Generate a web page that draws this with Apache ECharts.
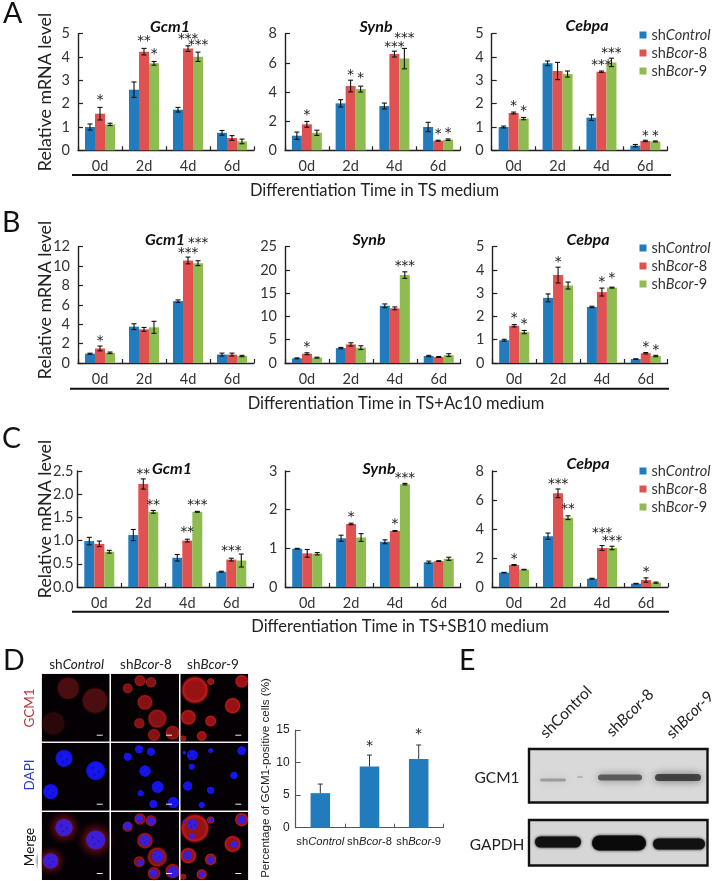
<!DOCTYPE html>
<html><head><meta charset="utf-8">
<style>html,body{margin:0;padding:0;background:#fff}#c{width:713px;height:881px}</style>
<script src="https://cdn.jsdelivr.net/npm/echarts@6/dist/echarts.min.js"></script>
</head><body><div id="c"></div>
<script>
const categories = ['0d','2d','4d','6d'];
const groups = ['shControl','shBcor-8','shBcor-9'];

// mean / sem per group (control, Bcor-8, Bcor-9); stars: [category, group, label, value]
const aGcm1Mean = [[1.0,2.6,1.74,0.75],[1.57,4.23,4.36,0.53],[1.11,3.73,4.01,0.38]];
const aGcm1Err  = [[0.13,0.33,0.1,0.1],[0.27,0.14,0.12,0.1],[0.05,0.08,0.2,0.1]];
const aGcm1Stars = [[0,1,'*',2.26],[1,1,'**',4.76],[1,2,'*',4.2],[2,1,'***',4.84],[2,2,'***',4.6]];
const aSynbMean = [[1.0,3.22,3.04,1.6],[1.78,4.41,6.6,0.66],[1.2,4.2,6.29,0.73]];
const aSynbErr  = [[0.25,0.25,0.2,0.32],[0.2,0.4,0.2,0.03],[0.18,0.2,0.7,0.05]];
const aSynbStars = [[0,1,'*',2.54],[1,1,'*',5.32],[1,2,'*',5.1],[2,1,'***',7.22],[2,2,'***',7.86],[3,1,'*',1.28],[3,2,'*',1.33]];
const aCebpaMean = [[1.0,3.73,1.4,0.2],[1.6,3.4,3.37,0.4],[1.36,3.27,3.77,0.38]];
const aCebpaErr  = [[0.04,0.1,0.12,0.05],[0.04,0.37,0.03,0.03],[0.05,0.13,0.18,0.02]];
const aCebpaStars = [[0,1,'*',1.99],[0,2,'*',1.77],[2,1,'***',3.73],[2,2,'***',4.26],[3,1,'*',0.7],[3,2,'*',0.7]];

const bGcm1Mean = [[0.96,3.75,6.38,0.87],[1.5,3.47,10.58,0.87],[1.05,3.68,10.3,0.72]];
const bGcm1Err  = [[0.05,0.3,0.13,0.15],[0.25,0.2,0.35,0.15],[0.08,0.62,0.25,0.07]];
const bGcm1Stars = [[0,1,'*',2.48],[2,1,'***',11.6],[2,2,'***',12.6]];
const bSynbMean = [[1.0,3.2,12.3,1.5],[2.0,4.0,11.75,1.3],[1.15,3.3,18.9,1.7]];
const bSynbErr  = [[0.1,0.15,0.4,0.15],[0.2,0.35,0.3,0.1],[0.1,0.4,0.7,0.3]];
const bSynbStars = [[0,1,'*',3.9],[2,2,'***',21.35]];
const bCebpaMean = [[0.98,2.8,2.41,0.17],[1.6,3.78,3.05,0.42],[1.33,3.33,3.24,0.3]];
const bCebpaErr  = [[0.04,0.17,0.03,0.01],[0.05,0.34,0.17,0.03],[0.07,0.15,0.02,0.03]];
const bCebpaStars = [[0,1,'*',2.02],[0,2,'*',1.78],[1,1,'*',4.43],[2,1,'*',3.55],[2,2,'*',3.76],[3,1,'*',0.77],[3,2,'*',0.66]];

const cGcm1Mean = [[0.99,1.12,0.63,0.33],[0.93,2.22,1.0,0.59],[0.76,1.62,1.62,0.57]];
const cGcm1Err  = [[0.08,0.12,0.07,0.01],[0.06,0.11,0.03,0.03],[0.03,0.03,0.01,0.14]];
const cGcm1Stars = [[1,1,'**',2.47],[1,2,'**',1.8],[2,1,'**',1.23],[2,2,'***',1.8],[3,1,'***',0.81]];
const cSynbMean = [[0.99,1.26,1.17,0.64],[0.87,1.63,1.45,0.67],[0.86,1.28,2.66,0.73]];
const cSynbErr  = [[0.01,0.08,0.05,0.03],[0.1,0.02,0.01,0.01],[0.03,0.1,0.02,0.04]];
const cSynbStars = [[1,1,'*',1.86],[2,1,'*',1.69],[2,2,'***',2.87]];
const cCebpaMean = [[0.99,3.5,0.57,0.23],[1.52,6.46,2.69,0.48],[1.2,4.78,2.69,0.3]];
const cCebpaErr  = [[0.02,0.22,0.03,0.02],[0.03,0.3,0.17,0.15],[0.02,0.13,0.12,0.04]];
const cCebpaStars = [[0,1,'*',2.09],[1,1,'***',7.22],[1,2,'**',5.54],[2,1,'***',3.86],[2,2,'***',3.31],[3,1,'*',1.2]];

const dCategories = groups;
const dPositive = [5.3,9.4,10.55];
const dPositiveErr = [1.4,1.75,2.15];
const dPositiveStars = [[1,'*',12.9],[2,'*',14.7]];

const COL = ['#227bbd','#e05252','#8fbc50'];
const LATO = 'Lato, Carlito, sans-serif';
const AX = '#222';
const STAR_FONT = '13.5px "DejaVu Sans"';

const panels = [
 {l:78, r:254, t:33.7, b:150.3, max:5, iv:1, m:aGcm1Mean, e:aGcm1Err, s:aGcm1Stars},
 {l:285,r:460, t:33.7, b:150.3, max:8, iv:2, m:aSynbMean, e:aSynbErr, s:aSynbStars},
 {l:491.7,r:667.3,t:33.7,b:150.3,max:5,iv:1, m:aCebpaMean,e:aCebpaErr,s:aCebpaStars},
 {l:78, r:254, t:246.7,b:363, max:12,iv:2, m:bGcm1Mean, e:bGcm1Err, s:bGcm1Stars},
 {l:285,r:460.7,t:246.7,b:363,max:25,iv:5, m:bSynbMean, e:bSynbErr, s:bSynbStars},
 {l:492.3,r:667.7,t:246.7,b:363,max:5,iv:1, m:bCebpaMean,e:bCebpaErr,s:bCebpaStars},
 {l:77.3,r:253.3,t:471,b:587, max:2.5,iv:0.5,fix:1, lm:4, m:cGcm1Mean, e:cGcm1Err, s:cGcm1Stars},
 {l:285.3,r:460.7,t:471,b:587,max:3, iv:1, m:cSynbMean, e:cSynbErr, s:cSynbStars},
 {l:492,r:668,t:471,b:587, max:8, iv:2, m:cCebpaMean,e:cCebpaErr,s:cCebpaStars}
];

const grid=[],xAxis=[],yAxis=[],series=[];
const axisLine={show:true,lineStyle:{color:AX,width:1.4}};
const BW = 10;

panels.forEach((p,i)=>{
  grid.push({left:p.l,top:p.t,width:p.r-p.l,height:p.b-p.t,containLabel:false});
  xAxis.push({gridIndex:i,type:'category',data:categories,axisLine,
    axisTick:{show:true,inside:true,length:4,alignWithLabel:false,lineStyle:{color:AX,width:1.2}},
    axisLabel:{fontFamily:LATO,fontSize:14.5,color:'#333',margin:9,interval:0},splitLine:{show:false}});
  yAxis.push({gridIndex:i,type:'value',min:0,max:p.max,interval:p.iv,axisLine,
    axisTick:{show:true,inside:true,length:5,lineStyle:{color:AX,width:1.2}},
    axisLabel:{fontFamily:LATO,fontSize:14.5,color:'#333',margin:p.lm||8,
      formatter:p.fix?(v=>v.toFixed(p.fix)):undefined},splitLine:{show:false}});
  groups.forEach((g,k)=>{
    series.push({type:'bar',name:g,xAxisIndex:i,yAxisIndex:i,data:p.m[k],barWidth:BW,barGap:0,
      itemStyle:{color:COL[k]},silent:true,z:2});
  });
  const errData=[];
  p.m.forEach((arr,k)=>arr.forEach((v,c)=>errData.push([c,v,p.e[k][c],k])));
  series.push({type:'custom',xAxisIndex:i,yAxisIndex:i,silent:true,z:3,clip:false,data:errData,
    encode:{x:0,y:1},
    renderItem:(ctx,api)=>{
      const c=api.value(0),v=api.value(1),er=api.value(2),k=api.value(3);
      const dx=(k-1)*BW;
      const a=api.coord([c,v+er]),b=api.coord([c,Math.max(0,v-er)]);
      const x=a[0]+dx, st={stroke:'#111',lineWidth:1.1};
      return {type:'group',children:[
        {type:'line',shape:{x1:x,y1:a[1],x2:x,y2:b[1]},style:st},
        {type:'line',shape:{x1:x-2.5,y1:a[1],x2:x+2.5,y2:a[1]},style:st},
        {type:'line',shape:{x1:x-2.5,y1:b[1],x2:x+2.5,y2:b[1]},style:st}]};
    }});
  series.push({type:'custom',xAxisIndex:i,yAxisIndex:i,silent:true,z:4,clip:false,
    data:p.s.map(s=>[s[0],s[3],s[1],s[2]]),encode:{x:0,y:1},
    renderItem:(ctx,api)=>{
      const q=api.coord([api.value(0),api.value(1)]);
      return {type:'text',x:q[0]+(api.value(2)-1)*BW,y:q[1]+2.5,
        style:{text:p.s[ctx.dataIndex][2],font:STAR_FONT,fill:'#222',align:'center',verticalAlign:'middle'}};
    }});
});

// Panel D bar chart
const di=panels.length;
grid.push({left:295.7,top:730,width:147.6,height:97.7});
xAxis.push({gridIndex:di,type:'category',data:dCategories,axisLine:{show:true,lineStyle:{color:'#555',width:1.2}},
  axisTick:{show:true,inside:true,length:4,lineStyle:{color:'#555'}},
  axisLabel:{interval:0,margin:9,fontFamily:'"Liberation Sans"',fontSize:11.2,color:'#222',
    formatter:v=>'sh{i|'+v.slice(2).replace(/-\d/,'')+'}'+(v.match(/-\d/)||[''])[0],
    rich:{i:{fontStyle:'italic',fontFamily:'"Liberation Sans"',fontSize:11.2,color:'#222'}}}});
yAxis.push({gridIndex:di,type:'value',min:0,max:15,interval:5,axisLine:{show:true,lineStyle:{color:'#555',width:1.2}},
  axisTick:{show:true,inside:true,length:5,lineStyle:{color:'#555'}},
  axisLabel:{fontFamily:'"Liberation Sans"',fontSize:12,color:'#222',margin:6},splitLine:{show:false}});
series.push({type:'bar',name:'GCM1-positive',xAxisIndex:di,yAxisIndex:di,data:dPositive,barWidth:19.5,itemStyle:{color:COL[0]},silent:true});
series.push({type:'custom',xAxisIndex:di,yAxisIndex:di,silent:true,z:3,clip:false,
  data:dPositive.map((v,c)=>[c,v,dPositiveErr[c]]),encode:{x:0,y:1},
  renderItem:(ctx,api)=>{
    const a=api.coord([api.value(0),api.value(1)+api.value(2)]),b=api.coord([api.value(0),api.value(1)]);
    const st={stroke:'#333',lineWidth:1};
    return {type:'group',children:[
      {type:'line',shape:{x1:a[0],y1:a[1],x2:b[0],y2:b[1]},style:st},
      {type:'line',shape:{x1:a[0]-2.5,y1:a[1],x2:a[0]+2.5,y2:a[1]},style:st}]};
  }});
series.push({type:'custom',xAxisIndex:di,yAxisIndex:di,silent:true,z:4,clip:false,
  data:dPositiveStars.map(s=>[s[0],s[2]]),encode:{x:0,y:1},
  renderItem:(ctx,api)=>{
    const q=api.coord([api.value(0),api.value(1)]);
    return {type:'text',x:q[0],y:q[1]+2.5,style:{text:'*',font:STAR_FONT,fill:'#222',align:'center',verticalAlign:'middle'}};
  }});

// Legends
const legend=[26,239,462].map(top=>({data:groups,orient:'vertical',left:639.5,top,padding:0,itemWidth:7,itemHeight:7,itemGap:0,
  icon:'rect',selectedMode:false,
  formatter:n=>n==='shControl'?'sh{i|Control}':'sh{i|Bcor}-'+n.slice(-1),
  textStyle:{fontFamily:LATO,fontSize:14.5,color:'#333',lineHeight:18,height:18,
    rich:{i:{fontStyle:'italic',fontFamily:LATO,fontSize:14.5,color:'#333',lineHeight:18}}}}));

// Graphic: labels, rules, photo panels
const G=[];
function T(text,x,y,size,o={}){
  const fam=o.fam||LATO,col=o.col||'#222';
  G.push({type:'text',x,y,rotation:(o.rot||0)*Math.PI/180,silent:true,z:10,style:{text,
    fontFamily:fam,fontSize:size,fontWeight:o.w||'normal',fontStyle:o.s||'normal',fill:col,
    align:o.a||'center',verticalAlign:'middle',
    rich:{n:{fontFamily:fam,fontSize:size,fontWeight:o.w||'normal',fill:col},
          i:{fontFamily:fam,fontSize:size,fontStyle:'italic',fill:col}}}});
}
[['A',3,14],['B',2,223],['C',2,439],['D',3,661],['E',459,661]].forEach(a=>T(a[0],a[1],a[2],28.5,{a:'left',col:'#111'}));
[92,300,519].forEach(y=>T('Relative mRNA level',45,y,17.8,{rot:90}));
const titles=[['Gcm1',170,27],['Synb',376,27],['Cebpa',587,26],['Gcm1',165,240],['Synb',369,240],['Cebpa',588,240],['Gcm1',172,469],['Synb',379,469],['Cebpa',588,464]];
titles.forEach(t=>T(t[0],t[1],t[2],16,{w:'bold',s:'italic',col:'#111'}));
[[72,671,175],[70,669,388.7],[72,669,611.7]].forEach(r=>G.push({type:'line',silent:true,shape:{x1:r[0],y1:r[2],x2:r[1],y2:r[2]},style:{stroke:'#111',lineWidth:2}}));
T('Differentiation Time in TS medium',374.5,190.7,16.5);
T('Differentiation Time in TS+Ac10 medium',396,404,16.5);
T('Differentiation Time in TS+SB10 medium',400,627,16.5);

// Microscopy panels (pictorial backdrop)
const PX=[41.7,111,180.3],PY=[673.7,742.7,812],PS=68;
PX.forEach(x=>PY.forEach(y=>G.push({type:'rect',silent:true,shape:{x,y,width:PS,height:PS},style:{fill:'#050003'}})));
function ell(zx,zy,zrx,zry,rot,stops){
  const cx=zx/3,cy=640+zy/3;
  G.push({type:'ellipse',silent:true,shape:{cx,cy,rx:zrx/3,ry:zry/3},rotation:(rot||0)*Math.PI/180,originX:cx,originY:cy,
    style:{fill:{type:'radial',x:.5,y:.5,r:.5,colorStops:stops.map(s=>({offset:s[0],color:s[1]}))}}});
}
const gcmCells=[
 [[205,145,38,48,-20],[285,182,44,44,0],[160,250,40,50,0]],
 [[383,145,17,29,-12],[420,122,19,23,0],[453,127,18,21,0],[435,187,26,29,10],[472,236,42,32,30],[418,250,27,18,0],[462,285,21,23,0],[518,278,24,26,0]],
 [[585,150,46,46,20],[632,125,17,12,0],[725,124,22,24,0],[698,197,29,27,0],[565,232,26,29,-20],[632,243,21,19,0],[605,288,21,17,0],[550,295,10,11,0]]
];
const dapiCells=[
 [[192,355,29,27,0],[287,392,30,30,0],[152,455,24,30,0]],
 [[383,350,13,20,-12],[417,328,13,14,0],[453,335,14,13,0],[435,393,18,19,0],[473,441,19,19,20],[422,460,16,10,0],[460,492,13,16,0],[520,488,18,22,0]],
 [[577,345,26,17,0],[632,332,8,8,0],[725,332,14,14,0],[575,380,10,10,0],[702,406,12,14,0],[563,438,15,15,0],[632,451,14,12,0],[605,495,12,10,0],[553,338,6,6,0]]
];
const tone=(c,r)=>[[0,c],[0.6,c],[0.78,r],[1,'rgba(5,0,3,0)']];
const gcmTone=[tone('#4a0d10','#4e0e10'),tone('#821214','#a01818'),tone('#981214','#be1a1a')];
const gcmDim=tone('#2a080a','#2c080a');
dapiCells.forEach((col,c)=>{ /* merge halo for control cells drawn first */
  if(c===0) col.forEach(d=>ell(d[0],d[1]+208,d[2]*2,d[3]*2,0,[[0,'#5a0c14'],[0.5,'#4e0c12'],[1,'rgba(40,4,8,0)']]));
});
gcmCells.forEach((col,c)=>col.forEach(g=>{
  ell(g[0],g[1],g[2],g[3],g[4],c===0&&g[1]>230?gcmDim:gcmTone[c]);
  if(c>0) ell(g[0],g[1]+415,g[2]*1.05,g[3]*1.05,g[4],gcmTone[c]);
}));
const dapiFill=[[0,'#1a16ee'],[0.78,'#1414ec'],[0.92,'#1010c0'],[1,'rgba(8,8,80,0)']];
const mergeFill=[[0,'#3a1ed8'],[0.78,'#3c1ed8'],[0.92,'#5018b0'],[1,'rgba(120,20,60,0)']];
dapiCells.forEach(col=>col.forEach(d=>{
  ell(d[0],d[1],d[2],d[3],d[4],dapiFill); ell(d[0],d[1]+208,d[2],d[3],d[4],mergeFill);
  if(d[2]>12){[[-.3,-.25],[.3,.1],[-.1,.4]].forEach(o=>{
    const s=d[2]*.2;
    ell(d[0]+o[0]*d[2],d[1]+o[1]*d[3],s,s,0,[[0,'#0a0a90'],[1,'rgba(10,10,200,0)']]);
    ell(d[0]+o[0]*d[2],d[1]+o[1]*d[3]+208,s,s,0,[[0,'#1e1090'],[1,'rgba(50,30,200,0)']]);
  });}
}));
// panel separators
[[38,673,3.7,208],[109.7,673,1.3,208],[179,673,1.3,208],[248.3,673,8,208],[38,741.7,212,1],[38,810.7,212,1.3],[38,668,212,5.7]].forEach(r=>
  G.push({type:'rect',silent:true,shape:{x:r[0],y:r[1],width:r[2],height:r[3]},style:{fill:'#fff'}}));
// scale bars
PX.forEach(x=>PY.forEach(y=>G.push({type:'rect',silent:true,shape:{x:x+Math.round(PS)-13,y:y+61,width:6,height:1},style:{fill:'#eee'}})));
T('sh{i|Control}',76.7,665,13.5); T('sh{i|Bcor}-8',146,665,13.5); T('sh{i|Bcor}-9',213,665,13.5);
T('GCM1',30,708,13.5,{rot:90,col:'#b5393a'}); T('DAPI',30,775,13.5,{rot:90,col:'#2a3fb5'}); T('Merge',30,847,13.5,{rot:90,col:'#111'});

T('Percentage of GCM1-positive cells (%)',266,778,11.6,{rot:90,fam:'"Liberation Sans"'});

// Western blots (pictorial backdrop)
function blotBox(x,y,w,h,fill){G.push({type:'rect',silent:true,shape:{x,y,width:w,height:h},style:{fill,stroke:'#111',lineWidth:2.4}});}
blotBox(529,749,178.5,53.5,'#d9d9d9'); blotBox(529,820,178.5,45.5,'#d6d6d6');
function band(x,y,w,h,col,blur){G.push({type:'rect',silent:true,shape:{x:x-w/2,y:y-h/2,width:w,height:h,r:h/2},style:{fill:col,shadowBlur:blur,shadowColor:col}});}
band(553,780,26,3,'rgba(120,120,120,.6)',9); band(580,777,6,2,'rgba(150,150,150,.5)',7);
band(620,777.5,44,6,'rgba(60,60,60,.75)',9); band(678,777.5,46,7,'rgba(40,40,40,.8)',9);
band(558,842,46,11,'#111',3); band(619,843,54,15,'#0a0a0a',3); band(679,844,52,11,'#111',3);
T('GCM1',497,778,15.5); T('GAPDH',497,845,15.5);
T('shControl',566,712,15.5,{rot:45}); T('sh{i|Bcor}-8',630,713,15.5,{rot:45}); T('sh{i|Bcor}-9',690,715,15.5,{rot:45});

const chart=echarts.init(document.getElementById('c'),null,{renderer:'canvas'});
chart.setOption({animation:false,backgroundColor:'#fff',grid,xAxis,yAxis,series,legend,graphic:{elements:G}});
</script></body></html>
